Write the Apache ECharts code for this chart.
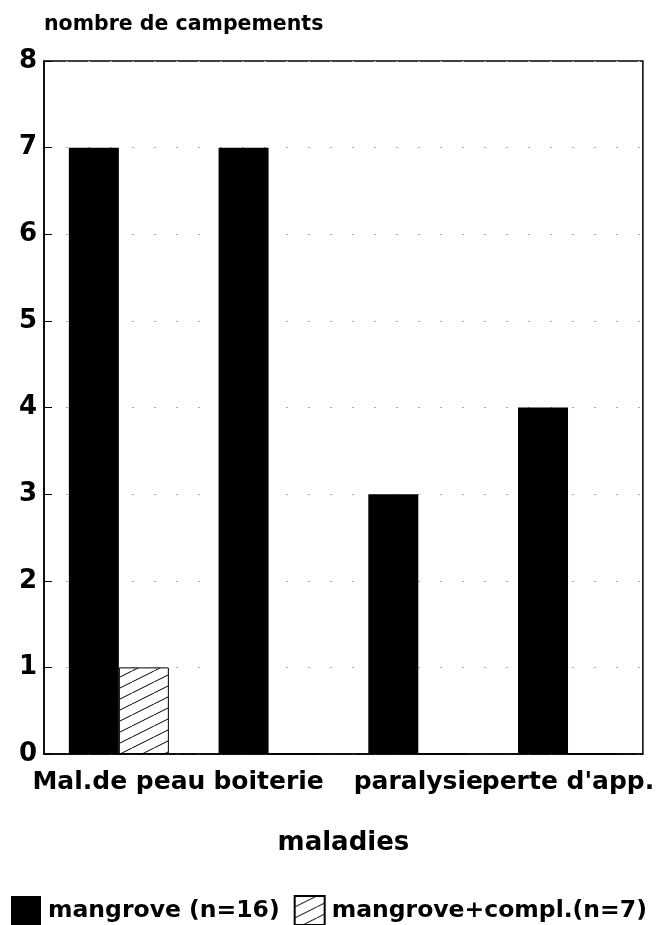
<!DOCTYPE html>
<html>
<head>
<meta charset="utf-8">
<script src="https://cdn.jsdelivr.net/npm/echarts@6/dist/echarts.min.js"></script>
<style>
html,body{margin:0;padding:0;background:#fff;}
#chart{width:657px;height:925px;}
</style>
</head>
<body>
<div id="chart"></div>
<script>
const categories = ["Mal.de peau", "boiterie", "paralysie", "perte d'app."];
const mangrove = [7, 7, 3, 4];
const mangroveCompl = [1, 0, 0, 0];
const yTicks = [0, 1, 2, 3, 4, 5, 6, 7, 8];
const seriesNames = ["mangrove (n=16)", "mangrove+compl.(n=7)"];
const yAxisTitle = "nombre de campements";
const xAxisTitle = "maladies";

function hatch() {
  const c = document.createElement('canvas');
  c.width = 22; c.height = 11;
  const g = c.getContext('2d');
  g.fillStyle = '#fff';
  g.fillRect(0, 0, 22, 11);
  g.strokeStyle = '#000';
  g.lineWidth = 1;
  g.beginPath();
  g.moveTo(-22, 22); g.lineTo(44, -11);
  g.stroke();
  return c;
}
const hatchPattern = { image: hatch(), repeat: 'repeat' };
const FONT = 'DejaVu Sans';

const chart = echarts.init(document.getElementById('chart'), null, {renderer: 'canvas'});
chart.setOption({
  animation: false,
  backgroundColor: '#fff',
  grid: { left: 44, right: 12, top: 61, bottom: 171, show: true, borderColor: '#000', borderWidth: 1.5, backgroundColor: 'transparent' },
  legend: {
    data: seriesNames,
    icon: 'rect',
    left: 6, top: 890,
    itemWidth: 30, itemHeight: 29, itemGap: 14,
    textStyle: { fontFamily: FONT, fontWeight: 'bold', fontSize: 23.5, color: '#000', padding: [0, 0, 0, 2] }
  },
  xAxis: {
    type: 'category',
    data: categories,
    name: xAxisTitle,
    nameLocation: 'middle',
    nameGap: 76,
    nameTextStyle: { fontFamily: FONT, fontWeight: 'bold', fontSize: 26, color: '#000' },
    axisLine: { lineStyle: { color: '#000', width: 1.5 } },
    axisTick: { show: false },
    axisLabel: { fontFamily: FONT, fontWeight: 'bold', fontSize: 25, color: '#000', margin: 16, interval: 0 }
  },
  yAxis: {
    type: 'value',
    min: 0, max: 8, interval: 1,
    name: yAxisTitle,
    nameLocation: 'end',
    nameGap: 26,
    nameTextStyle: { fontFamily: FONT, fontWeight: 'bold', fontSize: 20.5, color: '#000', align: 'left' },
    axisLine: { show: true, lineStyle: { color: '#000', width: 1.5 } },
    axisTick: { show: true, inside: true, length: 8, lineStyle: { color: '#000' } },
    axisLabel: { fontFamily: FONT, fontWeight: 'bold', fontSize: 26, color: '#000', margin: 7,
      formatter: v => yTicks.includes(v) ? String(v) : '' },
    splitLine: { show: true, lineStyle: { color: '#aaa', width: 1, type: [2, 20] } }
  },
  series: [
    {
      name: seriesNames[0], type: 'bar', data: mangrove,
      barWidth: 50, barGap: '0%',
      itemStyle: { color: '#000' }
    },
    {
      name: seriesNames[1], type: 'bar', data: mangroveCompl,
      barWidth: 50,
      itemStyle: { color: hatchPattern, borderColor: '#000', borderWidth: 1 }
    }
  ]
});
</script>
</body>
</html>
